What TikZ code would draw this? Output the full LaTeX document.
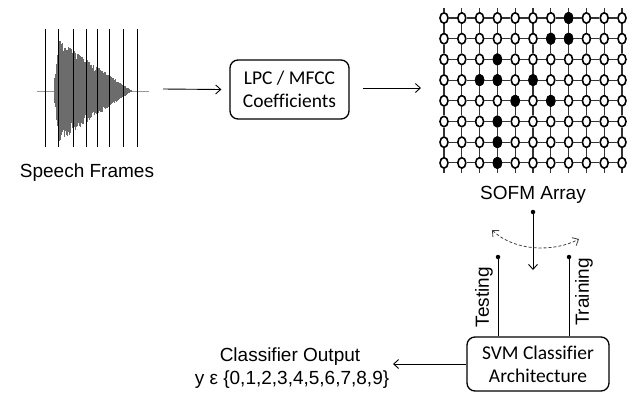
\documentclass[tikz,border=0pt]{standalone}
\usepackage{fontspec}
\setmainfont{Liberation Sans}
\newfontfamily\boxfont[Ligatures=NoCommon]{Carlito}
\usetikzlibrary{shapes,shapes.geometric,calc,arrows,arrows.meta,positioning}

\begin{document}
\begin{tikzpicture}
		[x=1pt,y=-1pt,>={Straight Barb[length=5pt,width=9pt]},
		box/.style={draw,rounded corners=8pt,line width=1.3pt,align=center,
			font=\boxfont\fontsize{19.5}{23}\selectfont},
		lbl/.style={font=\fontsize{19}{22}\selectfont,inner sep=0pt},
		unit/.style={ellipse,draw,line width=1.6pt,fill=white,inner sep=0pt,
			minimum width=8pt,minimum height=10.5pt},
		hit/.style={unit,fill=black},
		knob/.style={circle,fill=black,inner sep=0pt,minimum size=4.5pt},
		link/.style={line width=0.9pt}]
		\useasboundingbox (0,0) rectangle (641,392);
		% speech signal cut in frames
		\pgfmathsetseed{7}
		\draw[gray!80,line width=0.8pt] (37,91) -- (149,91);
		\foreach \x in {54,54.3,...,132}
		{
			\pgfmathsetmacro\amp{max(1,min(51-0.7*(\x-59),9*(\x-53)))}
			\draw[gray!85!black,line width=0.5pt] (\x,{91-\amp*(0.7+0.3*rnd)}) -- (\x,{91+\amp*(0.65+0.35*rnd)});
		}
		\foreach \x in {45,58,73,86,97,109,123,137}
		\draw[line width=0.9pt] (\x,29) -- (\x,147);
		\node[lbl,anchor=base] (speech) at (87,177) {Speech Frames};
		% feature box
		\node[box,minimum width=119pt,minimum height=59pt] (lpc) at (289.5,89.5) {LPC / MFCC\\Coefficients};
		\coordinate (wave) at (163,89);
		\coordinate (map) at (421,88);
		\draw[link,->] (wave) -- ([xshift=-8pt]lpc.west);
		\draw[link,->] ([xshift=13pt]lpc.east |- map) -- (map);
		% SOFM array
		\foreach \i in {0,...,10}
		\foreach \j in {0,...,7}
		\node[unit] (u\i-\j) at ({444+17.8*\i},{18+20.7*\j}) {};
		\foreach \i/\j in {7/0,6/1,7/1,3/2,2/3,3/3,5/3,4/4,6/4,3/5,3/6,3/7}
		\node[hit] at (u\i-\j) {};
		\foreach \i in {0,...,9}
		{
			\pgfmathtruncatemacro\k{\i+1}
			\foreach \j in {0,...,7}
			\draw[gray!40!black,line width=1.1pt] (u\i-\j) -- (u\k-\j);
		}
		\foreach \j in {0,...,6}
		{
			\pgfmathtruncatemacro\k{\j+1}
			\foreach \i in {0,...,10}
			\draw[gray!40!black,line width=1.1pt] (u\i-\j) -- (u\i-\k);
		}
		\foreach \i in {0,...,10}
		{
			\draw[gray!40!black,line width=1.1pt] (u\i-0.north) -- ++(0,-4);
			\draw[gray!40!black,line width=1.1pt] (u\i-7.south) -- ++(0,4);
		}
		\node[lbl,anchor=base] (sofm) at (533,199) {SOFM Array};
		% switch
		\node[knob] (tap) at (533,212) {};
		\coordinate (throw) at (533,270);
		\draw[link,->] (tap.center) -- (throw);
		\coordinate (swl) at (492,230);
		\coordinate (swr) at (579,239);
		\draw[gray!50!black,line width=0.8pt,dash pattern=on 3pt off 2pt,<->] (swl) .. controls (515,252) and (555,252) .. (swr);
		\node[knob] (test) at (498,257) {};
		\node[knob] (train) at (569,257) {};
		\node[box,minimum width=142pt,minimum height=54pt] (svm) at (538,364) {SVM Classifier\\Architecture};
		\path
		\foreach \startNode/\endNode in {test/svm,train/svm}
		{
			(\startNode.center) edge[link] (\startNode.center |- \endNode.north)
		};
		\node[lbl,rotate=90] (testlbl) at (484,297) {Testing};
		\node[lbl,rotate=90] (trainlbl) at (584,292) {Training};
		% output
		\coordinate (outtip) at (393,364);
		\draw[link,->] (svm.west |- outtip) -- (outtip);
		\node[lbl,anchor=base] (out) at (290,361) {Classifier Output};
		\node[lbl,anchor=base] (outset) at (292,384) {y ε \{0,1,2,3,4,5,6,7,8,9\}};
\end{tikzpicture}
\end{document}
